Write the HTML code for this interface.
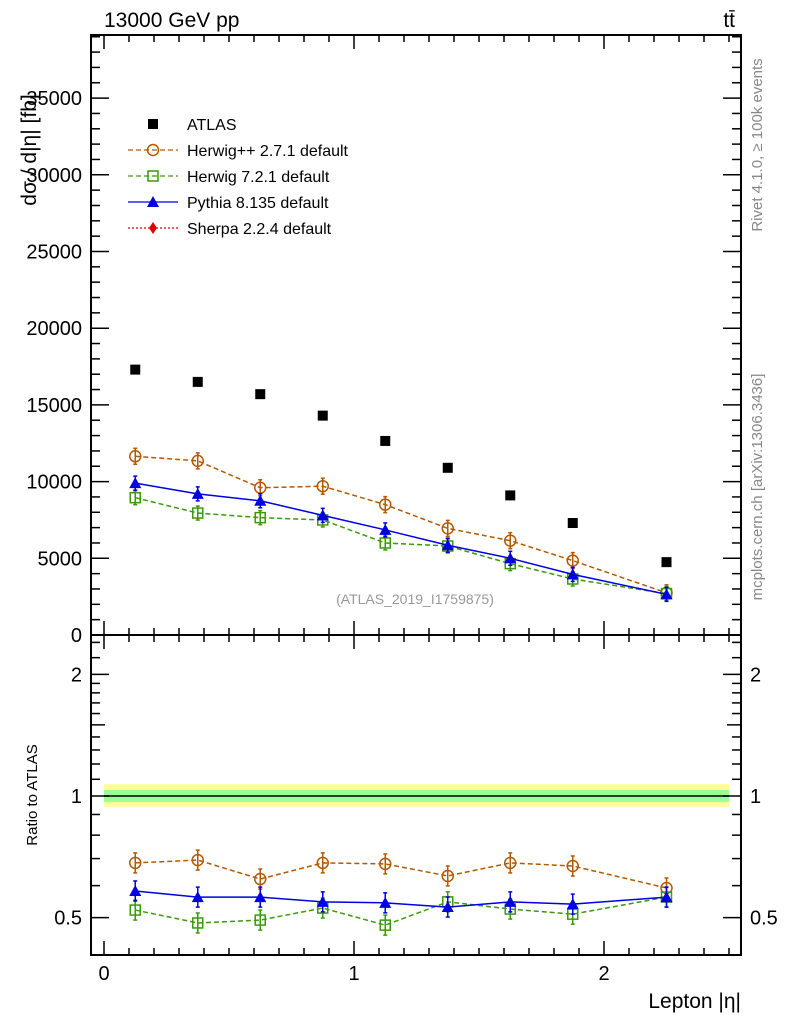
<!DOCTYPE html>
<html><head><meta charset="utf-8"><style>
body{margin:0;background:#fff;width:786px;height:1024px;overflow:hidden}
svg{display:block;font-family:"Liberation Sans",Arial,sans-serif}
</style></head><body>
<svg id="c" width="786" height="1024" viewBox="0 0 786 1024"></svg>
<script>
const xCenters=[0.125,0.375,0.625,0.875,1.125,1.375,1.625,1.875,2.25];
const atlas=[17300,16500,15700,14300,12650,10900,9100,7300,4750];
const herwigpp=[11650,11350,9600,9700,8500,6950,6150,4850,2750];
const herwig7=[8950,7950,7650,7500,6000,5800,4650,3650,2700];
const pythia=[9900,9200,8750,7800,6850,5850,5000,3950,2650];
const rHpp=[0.683,0.694,0.623,0.683,0.679,0.634,0.683,0.671,0.592];
const rH7=[0.522,0.485,0.493,0.528,0.479,0.547,0.525,0.51,0.562];
const rPy=[0.582,0.562,0.562,0.547,0.544,0.531,0.547,0.54,0.562];
const mainTicks=[0,5000,10000,15000,20000,25000,30000,35000];
const ratioTicks=[0.5,1,2];
const xTicks=[0,1,2];

const NS="http://www.w3.org/2000/svg",svg=document.getElementById('c');
function el(t,a,p){const e=document.createElementNS(NS,t);for(const k in a)e.setAttribute(k,a[k]);(p||svg).appendChild(e);return e;}
const L=91,R=741,T=35,M=635,B=955;
const X=v=>104+v*250;
const Y=v=>635-v*(76.7/5000);
const RY=v=>796-Math.log10(v)*404;

const by=el('rect',{x:X(0),y:RY(1.07),width:X(2.5)-X(0),height:RY(0.94)-RY(1.07),fill:'#ffff99'});

const bg=el('rect',{x:X(0),y:RY(1.035),width:X(2.5)-X(0),height:RY(0.967)-RY(1.035),fill:'#99ff99'});

el('line',{x1:X(0),x2:X(2.5),y1:RY(1),y2:RY(1),stroke:'#000','stroke-width':1.5});

const f1=el('rect',{x:L,y:T,width:R-L,height:M-T,fill:'none',stroke:'#000','stroke-width':2});

const f2=el('rect',{x:L,y:M,width:R-L,height:B-M,fill:'none',stroke:'#000','stroke-width':2});


for(let i=0;i<=25;i++){const v=i/10;const big=i%10==0;const h=big?14:7;const x=X(v);
 [[T,1],[M,-1],[M,1],[B,-1]].forEach(([y,d])=>el('line',{x1:x,x2:x,y1:y,y2:y+d*h,stroke:'#000','stroke-width':1.5}));}
xTicks.forEach(v=>{const t=el('text',{x:X(v),y:980,'font-size':20,'text-anchor':'middle'});t.textContent=v;
 });
for(let v=0;v<=39000;v+=1000){const big=v%5000==0;const h=big?18:9;const y=Y(v);if(y<T)break;
 el('line',{x1:L,x2:L+h,y1:y,y2:y,stroke:'#000','stroke-width':1.5});el('line',{x1:R,x2:R-h,y1:y,y2:y,stroke:'#000','stroke-width':1.5});}
mainTicks.forEach(v=>{const t=el('text',{x:82,y:Y(v)+7,'font-size':20,'text-anchor':'end'});t.textContent=v;
 });
[0.5,0.6,0.7,0.8,0.9,1,1.1,1.2,1.3,1.4,1.5,1.6,1.7,1.8,1.9,2,2.2,2.4].forEach(v=>{const big=(v==0.5||v==1||v==2);const h=big?18:(v==1.5?14:9);const y=RY(v);
 el('line',{x1:L,x2:L+h,y1:y,y2:y,stroke:'#000','stroke-width':1.5});el('line',{x1:R,x2:R-h,y1:y,y2:y,stroke:'#000','stroke-width':1.5});});
ratioTicks.forEach(v=>{[[82,'end'],[750,'start']].forEach(([x,a])=>{const t=el('text',{x:x,y:RY(v)+7,'font-size':20,'text-anchor':a});t.textContent=v;
 });});

function series(xs,ys,yf,color,dash,marker,name,errFrac){
 const g=el('g',{});
 if(color!='#000'){el('polyline',{points:xs.map((x,i)=>X(x)+','+yf(ys[i])).join(' '),fill:'none',stroke:color,'stroke-width':1.5,'stroke-dasharray':dash},g);}
 xs.forEach((x,i)=>{const cx=X(x),cy=yf(ys[i]);
  if(errFrac){const e=errFrac;el('line',{x1:cx,x2:cx,y1:cy-e,y2:cy+e,stroke:color,'stroke-width':1.5},g);
   el('line',{x1:cx-2,x2:cx+2,y1:cy-e,y2:cy-e,stroke:color,'stroke-width':1.5},g);el('line',{x1:cx-2,x2:cx+2,y1:cy+e,y2:cy+e,stroke:color,'stroke-width':1.5},g);}
  drawMarker(marker,cx,cy,color,g);});
}
function drawMarker(m,cx,cy,c,g){
 if(m=='sq')el('rect',{x:cx-5,y:cy-5,width:10,height:10,fill:'#000'},g);
 if(m=='circ')el('circle',{cx,cy,r:5.5,fill:'none',stroke:c,'stroke-width':1.5},g);
 if(m=='osq')el('rect',{x:cx-5,y:cy-5,width:10,height:10,fill:'none',stroke:c,'stroke-width':1.5},g);
 if(m=='tri')el('polygon',{points:`${cx},${cy-6} ${cx-6},${cy+5} ${cx+6},${cy+5}`,fill:c},g);
 if(m=='dia')el('polygon',{points:`${cx},${cy-6} ${cx-4},${cy} ${cx},${cy+6} ${cx+4},${cy}`,fill:c},g);
}
series(xCenters,atlas,Y,'#000','','sq','atlas-data',0);
series(xCenters,herwigpp,Y,'#b35900','5,3','circ','herwigpp-series',8);
series(xCenters,herwig7,Y,'#3a9a0a','5,3','osq','herwig7-series',7);
series(xCenters,pythia,Y,'#0000e0','','tri','pythia-series',7);
series(xCenters,rHpp,RY,'#b35900','5,3','circ','ratio-herwigpp',10);
series(xCenters,rH7,RY,'#3a9a0a','5,3','osq','ratio-herwig7',10);
series(xCenters,rPy,RY,'#0000e0','','tri','ratio-pythia',10);

const leg=[['ATLAS','#000','','sq'],['Herwig++ 2.7.1 default','#b35900','5,3','circ'],['Herwig 7.2.1 default','#3a9a0a','5,3','osq'],['Pythia 8.135 default','#0000e0','','tri'],['Sherpa 2.2.4 default','#e00000','2,2','dia']];
leg.forEach((l,i)=>{const y=124+i*26;const g=el('g',{});
 if(i>0)el('line',{x1:128,x2:178,y1:y,y2:y,stroke:l[1],'stroke-width':1.2,'stroke-dasharray':l[2]},g);
 drawMarker(l[3],153,y,l[1],g);
 const t=el('text',{x:187,y:y+6,'font-size':16},g);t.textContent=l[0];});

function txt(s,a,name){const t=el('text',a);t.textContent=s;return t;}
txt('13000 GeV pp',{x:104,y:27,'font-size':21},'plot-title');
txt('tt̄',{x:735,y:27,'font-size':21,'text-anchor':'end'},'process-label');
txt('dσ / d|η| [fb]',{x:0,y:0,'font-size':21,'transform':'translate(36,150) rotate(-90)','text-anchor':'middle'},'y-axis-title');
txt('Ratio to ATLAS',{x:0,y:0,'font-size':15,'transform':'translate(37,795) rotate(-90)','text-anchor':'middle'},'ratio-axis-title');
txt('Lepton |η|',{x:741,y:1008,'font-size':21,'text-anchor':'end'},'x-axis-title');
txt('(ATLAS_2019_I1759875)',{x:415,y:604,'font-size':14,fill:'#999','text-anchor':'middle'},'analysis-id');
txt('Rivet 4.1.0, ≥ 100k events',{x:0,y:0,'font-size':15,fill:'#888','transform':'translate(762,145) rotate(-90)','text-anchor':'middle'},'rivet-label');
txt('mcplots.cern.ch [arXiv:1306.3436]',{x:0,y:0,'font-size':15,fill:'#888','transform':'translate(762,487) rotate(-90)','text-anchor':'middle'},'mcplots-label');
</script>
</body></html>
